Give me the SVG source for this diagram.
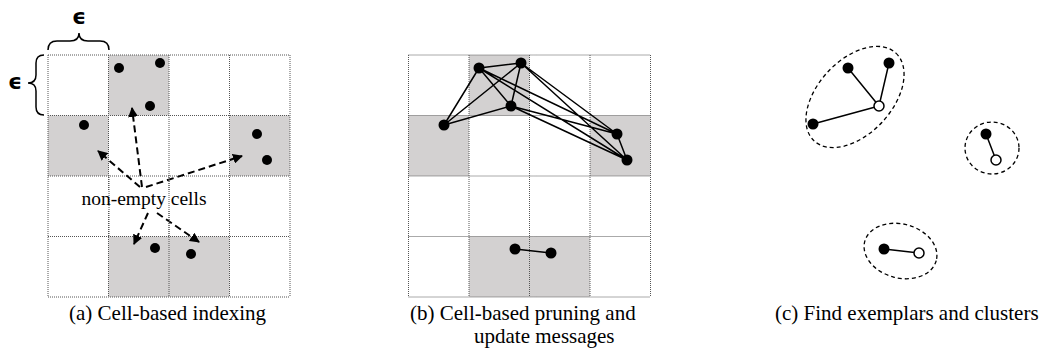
<svg xmlns="http://www.w3.org/2000/svg" width="1041" height="351" viewBox="0 0 1041 351">
<style>
.bg{fill:#fff}
.sh{fill:#d3d1d1}
.grid{stroke:#555;stroke-width:1;stroke-dasharray:1 1;fill:none}
.dot{fill:#000}
.open{fill:#fff;stroke:#000;stroke-width:1.5}
.edge{stroke:#000;stroke-width:1.5;fill:none}
.arr{stroke:#000;stroke-width:2;stroke-dasharray:7 4;fill:none}
.clu{stroke:#000;stroke-width:1.3;stroke-dasharray:4 3;fill:none}
.brace{stroke:#000;stroke-width:1.5;fill:none}
.cap{font-family:"Liberation Serif",serif;font-size:21px;fill:#000}
.lbl{font-family:"Liberation Serif",serif;font-size:19.5px;fill:#000}
.eps{font-family:"DejaVu Sans",sans-serif;font-weight:bold;font-size:22px;fill:#000}
</style>
<defs>
<marker id="ah" viewBox="0 0 10 10" refX="9" refY="5" markerWidth="5" markerHeight="5" orient="auto" markerUnits="strokeWidth">
<path d="M0,0 L10,5 L0,10 z" fill="#000"/>
</marker>
<g id="gridlines">
<path d="M0,0 H242 M0,60.5 H242 M0,121 H242 M0,181.5 H242 M0,242 H242 M0,0 V242 M60.5,0 V242 M121,0 V242 M181.5,0 V242 M242,0 V242"/>
</g>
</defs>
<rect class="bg" x="0" y="0" width="1041" height="351"/>

<!-- Panel (a) -->
<g id="panel-a-grid" transform="translate(48,55)">
<rect class="sh" x="60.5" y="0" width="60.5" height="60.5"/>
<rect class="sh" x="0" y="60.5" width="60.5" height="60.5"/>
<rect class="sh" x="181.5" y="60.5" width="60.5" height="60.5"/>
<rect class="sh" x="60.5" y="181.5" width="121" height="60.5"/>
<use href="#gridlines" class="grid"/>
</g>
<g id="braces">
<path class="brace" d="M48,50 Q48,41 57,41 L70,41 Q79,41 79,33 Q79,41 88,41 L100,41 Q109,41 109,50"/>
<path class="brace" d="M44,55 Q36,55 36,63 L36,75 Q36,83 28,83 Q36,83 36,91 L36,107 Q36,115 44,115"/>
<text class="eps" x="79" y="24" text-anchor="middle">ϵ</text>
<text class="eps" x="15" y="89" text-anchor="middle">ϵ</text>
</g>
<g id="a-points">
<circle class="dot" cx="119" cy="68" r="5"/>
<circle class="dot" cx="160" cy="63" r="5"/>
<circle class="dot" cx="150" cy="106" r="5"/>
<circle class="dot" cx="84" cy="125" r="5"/>
<circle class="dot" cx="257" cy="134" r="5"/>
<circle class="dot" cx="267" cy="160" r="5"/>
<circle class="dot" cx="155" cy="248" r="5"/>
<circle class="dot" cx="191" cy="254" r="5"/>
</g>
<g id="a-arrows">
<line class="arr" x1="140" y1="187" x2="98" y2="151" marker-end="url(#ah)"/>
<line class="arr" x1="142" y1="187" x2="132" y2="108" marker-end="url(#ah)"/>
<line class="arr" x1="146" y1="187" x2="242" y2="156" marker-end="url(#ah)"/>
<line class="arr" x1="148" y1="213" x2="134" y2="244" marker-end="url(#ah)"/>
<line class="arr" x1="157" y1="213" x2="199" y2="242" marker-end="url(#ah)"/>
</g>
<g id="label-nonempty">
<rect x="80" y="190" width="128" height="20" fill="#fff"/>
<path class="grid" d="M109,175 V236 M169,175 V236"/>
<text class="lbl" x="144" y="205" text-anchor="middle">non-empty cells</text>
</g>
<text class="cap" x="69" y="320">(a) Cell-based indexing</text>

<!-- Panel (b) -->
<g id="panel-b-grid" transform="translate(408.5,55)">
<rect class="sh" x="60.5" y="0" width="60.5" height="60.5"/>
<rect class="sh" x="0" y="60.5" width="60.5" height="60.5"/>
<rect class="sh" x="181.5" y="60.5" width="60.5" height="60.5"/>
<rect class="sh" x="60.5" y="181.5" width="121" height="60.5"/>
<use href="#gridlines" class="grid"/>
</g>
<g id="b-edges">
<path class="edge" d="M479,68 L521,63 M479,68 L511,106 M479,68 L444,125 M479,68 L617,134 M479,68 L627,160 M521,63 L444,125 M521,63 L511,106 M521,63 L617,134 M521,63 L627,160 M511,106 L444,125 M511,106 L617,134 M511,106 L627,160 M617,134 L627,160 M515,249 L551,253"/>
</g>
<g id="b-points">
<circle class="dot" cx="479" cy="68" r="5.5"/>
<circle class="dot" cx="521" cy="63" r="5.5"/>
<circle class="dot" cx="511" cy="106" r="5.5"/>
<circle class="dot" cx="444" cy="125" r="5.5"/>
<circle class="dot" cx="617" cy="134" r="5.5"/>
<circle class="dot" cx="627" cy="160" r="5.5"/>
<circle class="dot" cx="515" cy="249" r="5.5"/>
<circle class="dot" cx="551" cy="253" r="5.5"/>
</g>
<text class="cap" x="410" y="320">(b) Cell-based pruning and</text>
<text class="cap" x="474" y="343">update messages</text>

<!-- Panel (c) -->
<g id="c-clusters">
<ellipse class="clu" cx="855" cy="97" rx="60" ry="37" transform="rotate(-47 855 97)"/>
<ellipse class="clu" cx="992" cy="148" rx="27" ry="26"/>
<ellipse class="clu" cx="900.5" cy="251" rx="37" ry="27" transform="rotate(15 900.5 251)"/>
</g>
<g id="c-edges">
<path class="edge" d="M848,68 L879,106 M889,63 L879,106 M813,124 L879,106 M986,134 L996,160 M884,249 L919,253"/>
</g>
<g id="c-points">
<circle class="dot" cx="848" cy="68" r="5.5"/>
<circle class="dot" cx="889" cy="63" r="5.5"/>
<circle class="dot" cx="813" cy="124" r="5.5"/>
<circle class="open" cx="879" cy="106" r="5"/>
<circle class="dot" cx="986" cy="134" r="5.5"/>
<circle class="open" cx="996" cy="160" r="5"/>
<circle class="dot" cx="884" cy="249" r="5.5"/>
<circle class="open" cx="919" cy="253" r="5"/>
</g>
<text class="cap" x="775" y="320">(c) Find exemplars and clusters</text>
</svg>
